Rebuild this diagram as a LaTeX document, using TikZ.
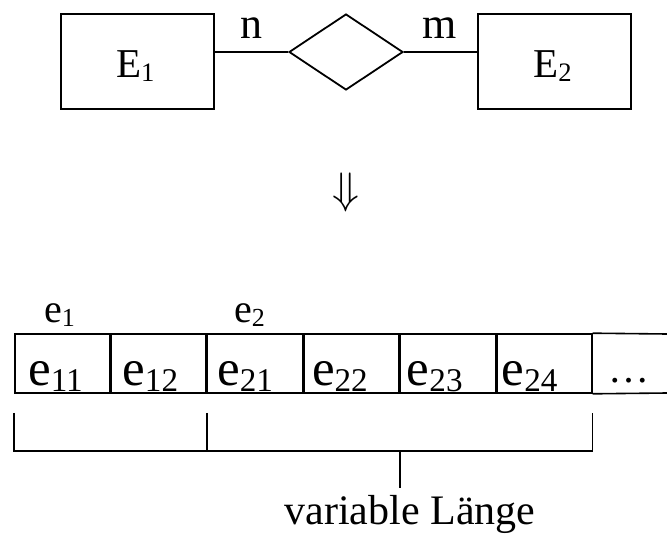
\documentclass[tikz,border=0pt]{standalone}
\usepackage{fontspec}
\setmainfont{Liberation Serif}
\usetikzlibrary{shapes.geometric,calc}
\newcommand\subsc[1]{\raisebox{-0.12em}{\scalebox{0.65}{#1}}}
\begin{document}
\begin{tikzpicture}[x=1pt,y=1pt,
  lw/.style={line width=1.8pt},
  thin line/.style={line width=1.6pt},
  ent/.style={draw, lw, rectangle, minimum width=153pt, minimum height=95pt, inner sep=0pt},
  rel/.style={draw, lw, diamond, minimum width=114pt, minimum height=76pt, inner sep=0pt},
  cell/.style={draw, thin line, rectangle, minimum width=94.83pt, minimum height=59pt, inner sep=0pt, anchor=west},
  entlabel/.style={inner sep=0pt, anchor=base west, font=\fontsize{41pt}{41pt}\selectfont},
  card/.style={inner sep=0pt, anchor=base, font=\fontsize{44pt}{44pt}\selectfont},
  celltxt/.style={inner sep=0pt, anchor=base, font=\fontsize{51pt}{51pt}\selectfont},
  grouplabel/.style={inner sep=0pt, anchor=base west, font=\fontsize{40pt}{40pt}\selectfont},
  caption/.style={inner sep=0pt, anchor=base, font=\fontsize{42pt}{42pt}\selectfont}]
\useasboundingbox[fill=white] (0,0) rectangle (667,-538);

% ER part
\node[ent] (E1) at (137.5,-61.5) {};
\node[ent] (E2) at (554.5,-61.5) {};
\node[rel] (R) at (346,-52) {};
\node[entlabel] (tE1) at (116,-77) {E\subsc{1}};
\node[entlabel] (tE2) at (533,-77) {E\subsc{2}};
\node[card] (n) at (251,-38) {n};
\node[card] (m) at (440,-38) {m};
\draw[lw] (R.west) -- (R.west -| E1.east);
\draw[lw] (R.east) -- (R.east -| E2.west);

% arrow
\node[inner sep=0pt] (arr) at (346,-192.5) {\scalebox{4.4}{$\Downarrow$}};

% record
\node[cell] (c1) at (14,-363.5) {};
\node[cell] (c2) at (c1.east) {};
\node[cell] (c3) at (c2.east) {};
\node[cell] (c4) at (c3.east) {};
\node[cell] (c5) at (c4.east) {};
\node[cell] (c6) at (c5.east) {};
\coordinate (rt) at (667,-334);
\coordinate (rb) at (667,-393);
\draw[thin line] (c6.north east) -- (rt);
\draw[thin line] (c6.south east) -- (rb);

\node[celltxt] (e11) at (55.4,-385) {e\subsc{11}};
\node[celltxt] (e12) at (150.2,-385) {e\subsc{12}};
\node[celltxt] (e21) at (245.1,-385) {e\subsc{21}};
\node[celltxt] (e22) at (339.9,-385) {e\subsc{22}};
\node[celltxt] (e23) at (434.7,-385) {e\subsc{23}};
\node[celltxt] (e24) at (529.6,-385) {e\subsc{24}};
\node[inner sep=0pt, anchor=base, font=\fontsize{41pt}{41pt}\selectfont] (dots) at (629,-382) {…};

\node[grouplabel] (g1) at (44,-322) {e\subsc{1}};
\node[grouplabel] (g2) at (234,-322) {e\subsc{2}};

% bracket
\draw[thin line] ($(c1.south west)+(0,-19)$) -- ($(c1.south west)+(0,-57)$)
   -- ($(c6.south east)+(0,-57)$) -- ($(c6.south east)+(0,-19)$);
\draw[thin line] ($(c3.south west)+(0,-19)$) -- ($(c3.south west)+(0,-57)$);
\draw[thin line] ($(c5.south west)+(0,-57)$) -- ($(c5.south west)+(0,-94)$) coordinate (bt);

\node[caption] (vl) at (410,-524) {variable Länge};
\end{tikzpicture}
\end{document}
